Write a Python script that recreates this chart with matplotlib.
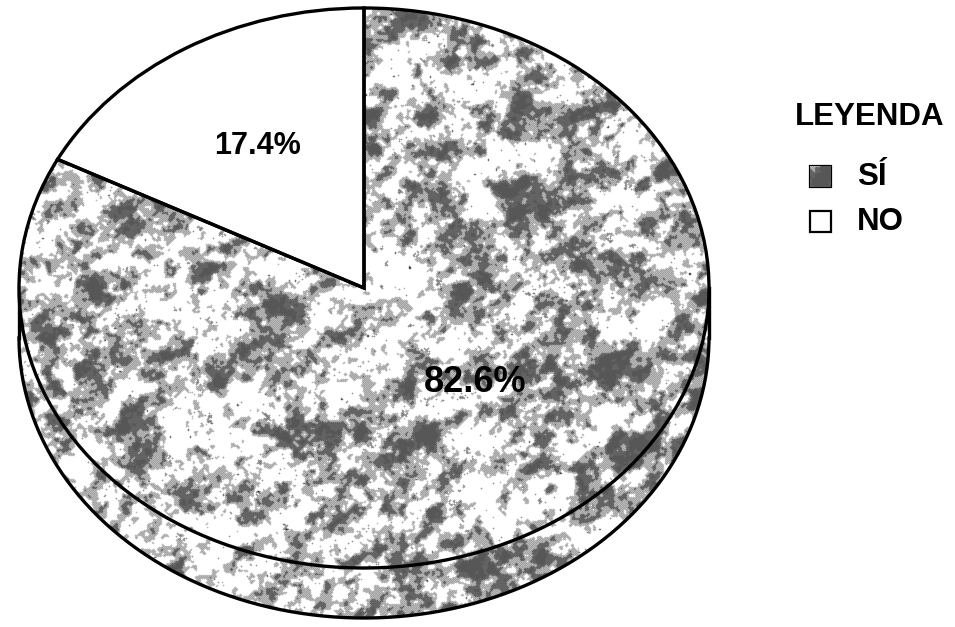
import numpy as np
import matplotlib
matplotlib.use("Agg")
import matplotlib.pyplot as plt
from matplotlib.patches import Wedge, Rectangle, Polygon
from matplotlib.transforms import Affine2D

# datos de la encuesta
categorias = ["SÍ", "NO"]
porcentajes = [82.6, 17.4]
titulo_leyenda = "LEYENDA"

W, H = 955, 627
fig = plt.figure(figsize=(W / 100, H / 100), dpi=100)
ax = fig.add_axes([0, 0, 1, 1])
ax.set_xlim(0, W)
ax.set_ylim(H, 0)
ax.axis("off")

# elipse superior del pastel y grosor del canto
cx, cy, rx, ry, prof = 364, 288, 345, 280, 50
elipse = Affine2D().scale(rx, -ry).translate(cx, cy) + ax.transData
LW = 2.4


def textura(h, w, semilla=5):
    """Textura tipo granito en grises con tramado de puntos."""
    rng = np.random.default_rng(semilla)
    fy = np.fft.fftfreq(h)[:, None]
    fx = np.fft.fftfreq(w)[None, :]
    c, s = np.cos(np.radians(-35)), np.sin(np.radians(-35))
    u = fx * c + fy * s
    v = -fx * s + fy * c

    def capa(su, sv):
        ruido = rng.standard_normal((h, w))
        filtro = np.exp(-2 * np.pi ** 2 * ((u * su) ** 2 + (v * sv) ** 2))
        campo = np.real(np.fft.ifft2(np.fft.fft2(ruido) * filtro))
        return campo / campo.std()

    d = 0.55 * capa(16, 11) + 0.65 * capa(5, 4) + 0.4 * capa(1.5, 1.5)
    grupos = capa(3, 3)
    puntos = capa(0.6, 0.6)
    ii, jj = np.indices((h, w))
    tablero = (ii + jj) % 2 == 0
    rejilla = (ii % 2 == 0) | (jj % 2 == 0)
    img = np.ones((h, w))
    img[(d > -0.15) & tablero] = 0.36
    img[(d > 0.75) & rejilla] = 0.4
    img[(d > 1.6) & tablero] = 0.28
    # racimos de puntos negros sobre las zonas claras
    negro = (d <= -0.15) & (((grupos > 2.0) & tablero & (puntos > 0)) | (puntos > 2.6))
    img[negro] = 0.05
    # suavizado leve
    suave = img.copy()
    for dy, dx in [(0, 1), (1, 0), (0, -1), (-1, 0)]:
        suave += 0.35 * np.roll(np.roll(img, dy, 0), dx, 1)
    return suave / 2.4, d


tex, oscuridad = textura(H, W)


def rellenar(parche, img=tex, ext=(0, W, H, 0)):
    im = ax.imshow(img, extent=ext, cmap="gray", vmin=0, vmax=1,
                   interpolation="nearest", zorder=parche.get_zorder() + 0.1)
    im.set_clip_path(parche)


# canto visible (mitad inferior)
t = np.radians(np.linspace(180, 360, 200))
arco_x = cx + rx * np.cos(t)
arco_y = cy - ry * np.sin(t)
canto = np.column_stack([np.r_[arco_x, arco_x[::-1]],
                         np.r_[arco_y, arco_y[::-1] + prof]])
p_canto = Polygon(canto, closed=True, facecolor="white", edgecolor="none", zorder=1)
ax.add_patch(p_canto)
rellenar(p_canto)
ax.plot(arco_x, arco_y + prof, color="black", lw=LW, zorder=3)
ax.plot([cx - rx, cx - rx], [cy, cy + prof], color="black", lw=LW, zorder=3)
ax.plot([cx + rx, cx + rx], [cy, cy + prof], color="black", lw=LW, zorder=3)

# porciones de la cara superior, NO empieza en las 12 en sentido antihorario
angulos = 90 + 3.6 * np.cumsum([0] + porcentajes[::-1])
rebanadas = {}
for k, cat in enumerate(categorias[::-1]):
    w = Wedge((0, 0), 1, angulos[k], angulos[k + 1], transform=elipse,
              facecolor="white", edgecolor="none", zorder=4)
    ax.add_patch(w)
    rebanadas[cat] = w
rellenar(rebanadas["SÍ"])
for cat, w in rebanadas.items():
    ax.add_patch(Wedge((0, 0), 1, w.theta1, w.theta2, transform=elipse,
                       facecolor="none", edgecolor="black", lw=LW,
                       joinstyle="miter", zorder=6))

# etiquetas de porcentaje
fuente = dict(family="Liberation Sans", weight="bold", ha="center", va="center",
              zorder=7)
pos_etiquetas = {"NO": (257, 146), "SÍ": (475, 383)}
tam_etiquetas = {"NO": 22, "SÍ": 26}
for cat, val in zip(categorias, porcentajes):
    ax.text(*pos_etiquetas[cat], f"{val}%", fontsize=tam_etiquetas[cat], **fuente)

# muestra de textura densa para el cuadro de la leyenda
lado = 22
bloques = oscuridad[:H - H % lado, :W - W % lado]
bloques = bloques.reshape(H // lado, lado, W // lado, lado).mean(axis=(1, 3))
bi, bj = np.unravel_index(np.argmax(bloques), bloques.shape)
muestra = tex[bi * lado:(bi + 1) * lado, bj * lado:(bj + 1) * lado]

# leyenda
ax.text(870, 117, titulo_leyenda, fontsize=22.5, **fuente)
for k, cat in enumerate(categorias):
    y = 177 + 45 * k
    caja = Rectangle((810, y - 11), 21, 21, facecolor="white", edgecolor="black",
                     lw=1.6, zorder=5)
    ax.add_patch(caja)
    if cat == "SÍ":
        rellenar(caja, muestra, (810, 831, y + 10, y - 11))
    ax.text(857, y, cat, fontsize=22.5, family="Liberation Sans", weight="bold",
            ha="left", va="center", zorder=7)

fig.savefig("out.png", dpi=100)
